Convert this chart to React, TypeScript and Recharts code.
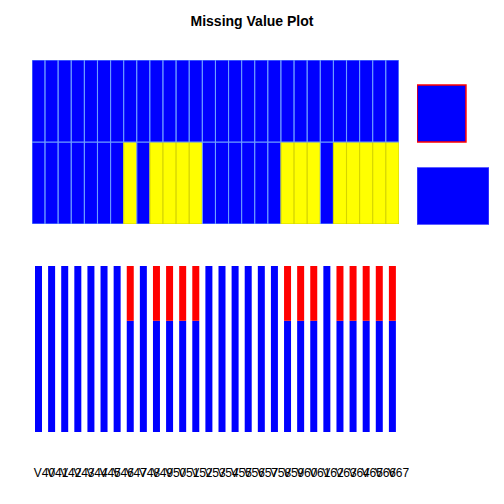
import { BarChart, Bar, XAxis, YAxis, Cell } from "recharts";

const variables = [
  "V40", "V41", "V42", "V43", "V44", "V45", "V46", "V47", "V48", "V49",
  "V50", "V51", "V52", "V53", "V54", "V55", "V56", "V57", "V58", "V59",
  "V60", "V61", "V62", "V63", "V64", "V65", "V66", "V67",
];

// 1 = has missing values in the second pattern row
const missingFlag = [
  0, 0, 0, 0, 0, 0, 0, 1, 0, 1,
  1, 1, 1, 0, 0, 0, 0, 0, 0, 1,
  1, 1, 0, 1, 1, 1, 1, 1,
];

// proportion missing per variable
const missingShare = missingFlag.map((f) => (f ? 0.33 : 0));

// pattern frequencies (legend boxes on the right)
const patternNames = ["pattern1", "pattern2"];
const patternFreq = [0.68, 1];

const BLUE = "#0000ff";
const YELLOW = "#ffff00";
const RED = "#ff0000";

const gridData = variables.map((v, i) => ({
  name: v,
  row2: 1,
  row1: 1,
  missing: missingFlag[i],
}));

const barData = variables.map((v, i) => ({
  name: v,
  present: 1 - missingShare[i],
  missing: missingShare[i],
}));

const legendData = patternNames.map((n, i) => ({ name: n, freq: patternFreq[i] }));

function LabelTick({ x, y, payload }: any) {
  return (
    <text
      x={x + 6}
      y={y + 33}
      textAnchor="middle"
      dominantBaseline="central"
      fontFamily="Liberation Sans, Arial, sans-serif"
      fontSize={12}
      fill="#000"
    >
      {payload.value}
    </text>
  );
}

export default function App() {
  return (
    <div
      style={{
        position: "absolute",
        left: 0,
        top: 0,
        width: 504,
        height: 504,
        background: "#fff",
        fontFamily: "Liberation Sans, Arial, sans-serif",
      }}
    >
      <div
        style={{
          position: "absolute",
          top: 13,
          width: 504,
          textAlign: "center",
          fontWeight: "bold",
          fontSize: 14,
        }}
      >
        Missing Value Plot
      </div>

      {/* pattern grid */}
      <div style={{ position: "absolute", left: 32, top: 60 }}>
        <BarChart
          width={367}
          height={164}
          data={gridData}
          margin={{ top: 0, right: 0, bottom: 0, left: 0 }}
          barCategoryGap={0}
        >
          <XAxis dataKey="name" hide />
          <YAxis hide domain={[0, 2]} />
          <Bar dataKey="row2" stackId="g" isAnimationActive={false}>
            {gridData.map((d) => (
              <Cell
                key={d.name}
                fill={d.missing ? YELLOW : BLUE}
                stroke={d.missing ? "#d4d400" : "#6fa0ff"}
                strokeWidth={1}
              />
            ))}
          </Bar>
          <Bar dataKey="row1" stackId="g" isAnimationActive={false}>
            {gridData.map((d) => (
              <Cell key={d.name} fill={BLUE} stroke="#6fa0ff" strokeWidth={1} />
            ))}
          </Bar>
        </BarChart>
      </div>

      {/* pattern frequency boxes */}
      <div style={{ position: "absolute", left: 417, top: 72 }}>
        <BarChart
          width={72}
          height={165}
          data={legendData}
          layout="vertical"
          margin={{ top: 0, right: 0, bottom: 0, left: 0 }}
        >
          <XAxis type="number" hide domain={[0, 1]} />
          <YAxis type="category" dataKey="name" hide />
          <Bar dataKey="freq" barSize={57} isAnimationActive={false}>
            <Cell fill={BLUE} stroke={RED} strokeWidth={1.5} />
            <Cell fill={BLUE} stroke="#5f5fff" strokeWidth={1} />
          </Bar>
        </BarChart>
      </div>

      {/* missing proportion per variable */}
      <div style={{ position: "absolute", left: 32, top: 266 }}>
        <BarChart
          width={392}
          height={216}
          data={barData}
          margin={{ top: 0, right: 25, bottom: 0, left: 0 }}
        >
          <XAxis
            dataKey="name"
            height={50}
            axisLine={false}
            tickLine={false}
            interval={0}
            tick={<LabelTick />}
          />
          <YAxis hide domain={[0, 1]} />
          <Bar dataKey="present" stackId="b" fill={BLUE} barSize={7} isAnimationActive={false} />
          <Bar dataKey="missing" stackId="b" fill={RED} barSize={7} isAnimationActive={false} />
        </BarChart>
      </div>
    </div>
  );
}
